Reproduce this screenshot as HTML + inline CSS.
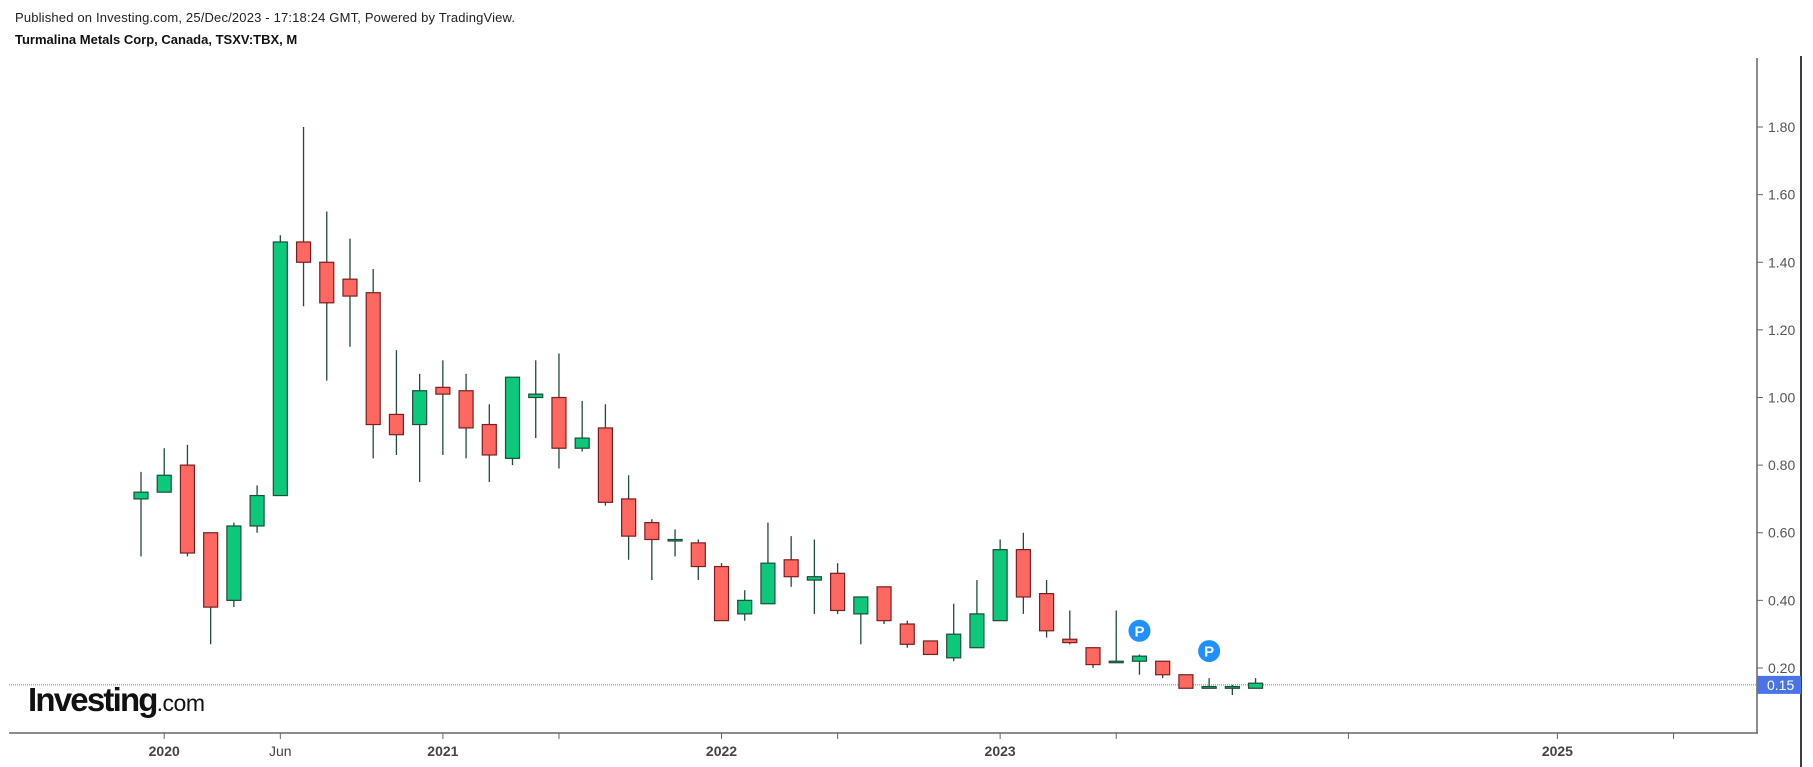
<!DOCTYPE html>
<html><head><meta charset="utf-8"><style>
body{margin:0;width:1813px;height:767px;background:#fff;overflow:hidden;font-family:"Liberation Sans",sans-serif}
svg{position:absolute;left:0;top:0}
</style></head><body>
<svg width="1813" height="767" id="chart">
<text x="15" y="22" font-size="13" fill="#222" textLength="500">Published on Investing.com, 25/Dec/2023 - 17:18:24 GMT, Powered by TradingView.</text>
<text x="15" y="44" font-size="13" font-weight="bold" fill="#111">Turmalina Metals Corp, Canada, TSXV:TBX, M</text>
<line x1="1801" y1="56" x2="1801" y2="767" stroke="#000" stroke-width="1.5"/>
<line x1="1757" y1="58" x2="1757" y2="733" stroke="#666" stroke-width="1.5"/>
<line x1="9" y1="733" x2="1758" y2="733" stroke="#666" stroke-width="1.5"/>
<g id="yaxis"></g><g id="xaxis"></g><g id="candles"></g>
<text x="28" y="711" font-size="33" font-weight="bold" fill="#111" letter-spacing="-1.8">Investing<tspan font-size="23" font-weight="normal" letter-spacing="-0.5">.com</tspan></text>
</svg>
<script>
const months=["Dec19","Jan20","Feb20","Mar20","Apr20","May20","Jun20","Jul20","Aug20","Sep20","Oct20","Nov20","Dec20","Jan21","Feb21","Mar21","Apr21","May21","Jun21","Jul21","Aug21","Sep21","Oct21","Nov21","Dec21","Jan22","Feb22","Mar22","Apr22","May22","Jun22","Jul22","Aug22","Sep22","Oct22","Nov22","Dec22","Jan23","Feb23","Mar23","Apr23","May23","Jun23","Jul23","Aug23","Sep23","Oct23","Nov23","Dec23"];
const opens=[0.70,0.72,0.80,0.60,0.40,0.62,0.71,1.46,1.40,1.35,1.31,0.95,0.92,1.03,1.02,0.92,0.82,1.00,1.00,0.85,0.91,0.70,0.63,0.58,0.57,0.50,0.36,0.39,0.52,0.46,0.48,0.36,0.44,0.33,0.28,0.23,0.26,0.34,0.55,0.42,0.285,0.26,0.22,0.22,0.22,0.18,0.14,0.14,0.14];
const highs=[0.78,0.85,0.86,0.60,0.63,0.74,1.48,1.80,1.55,1.47,1.38,1.14,1.07,1.11,1.07,0.98,1.06,1.11,1.13,0.99,0.98,0.77,0.64,0.61,0.58,0.51,0.43,0.63,0.59,0.58,0.51,0.41,0.44,0.34,0.28,0.39,0.46,0.58,0.60,0.46,0.37,0.26,0.37,0.24,0.22,0.18,0.17,0.15,0.17];
const lows=[0.53,0.72,0.53,0.27,0.38,0.60,0.71,1.27,1.05,1.15,0.82,0.83,0.75,0.83,0.82,0.75,0.80,0.88,0.79,0.84,0.68,0.52,0.46,0.53,0.46,0.34,0.34,0.39,0.44,0.36,0.36,0.27,0.33,0.26,0.24,0.22,0.26,0.34,0.36,0.29,0.27,0.20,0.22,0.18,0.17,0.14,0.14,0.12,0.14];
const closes=[0.72,0.77,0.54,0.38,0.62,0.71,1.46,1.40,1.28,1.30,0.92,0.89,1.02,1.01,0.91,0.83,1.06,1.01,0.85,0.88,0.69,0.59,0.58,0.58,0.50,0.34,0.40,0.51,0.47,0.47,0.37,0.41,0.34,0.27,0.24,0.30,0.36,0.55,0.41,0.31,0.275,0.21,0.22,0.235,0.18,0.14,0.145,0.145,0.155];
const yTicks=[0.20,0.40,0.60,0.80,1.00,1.20,1.40,1.60,1.80];
const xLabels=["2020","Jun","2021","","2022","","2023","","","2025",""];
const xLabelIdx=[1,6,13,18,25,30,37,42,52,61,66];
const markers=[{i:43,p:0.31},{i:46,p:0.25}];
const lastPrice=0.15;
const NS="http://www.w3.org/2000/svg";
const y=v=>735.6-v*338.1;
const x=i=>141+i*23.22;
function mk(t,a,p){const e=document.createElementNS(NS,t);for(const k in a)e.setAttribute(k,a[k]);p.appendChild(e);return e;}
const ya=document.getElementById('yaxis'),xa=document.getElementById('xaxis'),cg=document.getElementById('candles');
yTicks.forEach(v=>{mk('line',{x1:1757,x2:1763,y1:y(v),y2:y(v),stroke:'#666'},ya);
 const t=mk('text',{x:1768,y:y(v)+5,'font-size':14,fill:'#555'},ya);t.textContent=v.toFixed(2);
 
 });
xLabelIdx.forEach((idx,k)=>{const xx=x(idx);mk('line',{x1:xx,x2:xx,y1:733,y2:739,stroke:'#666'},xa);
 if(xLabels[k]){const t=mk('text',{x:xx,y:756,'font-size':14,'text-anchor':'middle',fill:'#444','font-weight':xLabels[k]=='Jun'?'normal':'bold'},xa);t.textContent=xLabels[k];
 
 }});
const pl=mk('line',{x1:9,x2:1757,y1:y(lastPrice),y2:y(lastPrice),stroke:'#5b7be0','stroke-dasharray':'1,1'},ya);


const pr=mk('rect',{x:1757,y:y(lastPrice)-9,width:44,height:18,fill:'#4a73e6'},ya);


const pt=mk('text',{x:1767,y:y(lastPrice)+5,'font-size':14,fill:'#fff'},ya);pt.textContent=lastPrice.toFixed(2);
months.forEach((m,i)=>{const o=opens[i],c=closes[i],up=c>=o,cx=x(i);
 const g=mk('g',{},cg);
 
 
 mk('line',{x1:cx,x2:cx,y1:y(highs[i]),y2:y(lows[i]),stroke:'#1e4d3a','stroke-width':1.3},g);
 const top=y(Math.max(o,c)),h=Math.max(Math.abs(y(o)-y(c)),1.5);
 mk('rect',{x:cx-7,y:top,width:14,height:h,fill:up?'#0bc87a':'#ff6760',stroke:up?'#1e4d3a':'#7a1f1f','stroke-width':1.2},g);});
markers.forEach(mm=>{const g=mk('g',{},cg);
 
 
 mk('circle',{cx:x(mm.i),cy:y(mm.p),r:11,fill:'#1e90ff'},g);
 const t=mk('text',{x:x(mm.i),y:y(mm.p)+5.5,'font-size':15,'font-weight':'bold','text-anchor':'middle',fill:'#fff'},g);t.textContent='P';});
</script>
</body></html>
